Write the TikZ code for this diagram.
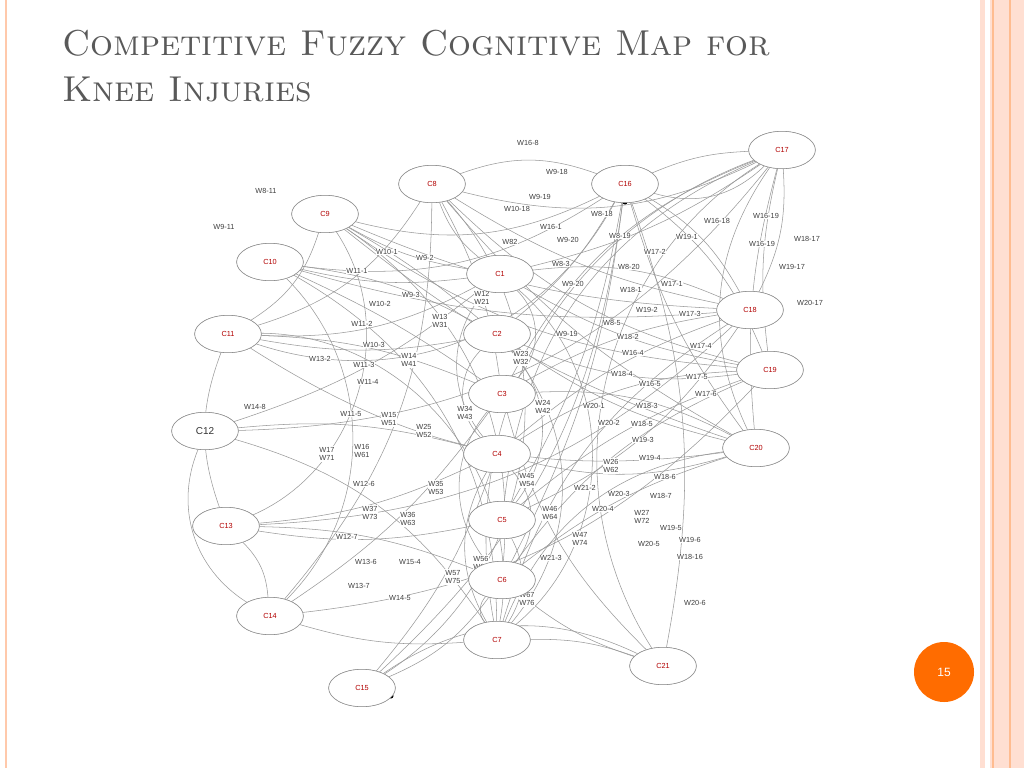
\documentclass[tikz,border=0pt]{standalone}
\usepackage{fontspec}
\newfontfamily\lab{Liberation Sans}
\usetikzlibrary{shapes.geometric}
\begin{document}
\begin{tikzpicture}[x=0.75pt,y=-0.75pt,
  cn/.style={draw=black!45,ellipse,minimum width=50pt,minimum height=28pt,inner sep=0pt,font=\lab\fontsize{5.5}{6}\selectfont,text=red!70!black,fill=white},
  wl/.style={font=\lab\fontsize{5.5}{6.5}\selectfont,text=black!75,align=center,inner sep=0.5pt},
  ed/.style={draw=black!40,line width=0.4pt}]
\useasboundingbox (0,0) rectangle (1024,768);
% slide decoration
\fill[white] (0,0) rectangle (1024,768);
\draw[orange!40!pink!60,line width=1pt] (6,0) -- (6,768);
\fill[orange!25!pink!40] (980,0) rectangle (1024,768);
\fill[white] (985,0) rectangle (990,768);
\draw[orange!50!pink!70,line width=0.8pt] (993,0) -- (993,768);
\draw[orange!50!pink!70,line width=0.8pt] (1010,0) -- (1010,768);
\node[anchor=west,text=black!65,font=\fontsize{27}{34}\selectfont\scshape,align=left,inner sep=0] (title) at (62,66) {Competitive Fuzzy Cognitive Map for\\Knee Injuries};
\node[circle,fill=orange!85!red,minimum size=45pt,text=white,font=\lab\fontsize{9}{9}\selectfont] (pg) at (944,672) {15};
% nodes (shapes only)
\foreach \n/\x/\y in {C17/782/150,C8/432/184,C16/625/184,C9/325/214,C10/270/262,C1/500/274,C11/228/334,C2/497/334,C18/750/310,C19/770/370,C3/502/394,C12/205/431,C20/756/448,C4/497/454,C13/226/526,C5/502/520,C6/502/580,C14/270/616,C7/497/640,C21/663/666,C15/362/688}
  \node[cn,fill=none] (\n) at (\x,\y) {};
% edges
\foreach \a/\b/\c in {C8/C16/20,C8/C1/-15,C8/C18/-10,C8/C19/-15,C8/C11/20,C8/C3/10,C16/C17/10,C9/C11/20,C9/C1/-10,C9/C2/5,C9/C18/-10,C9/C20/-10,C10/C1/-10,C10/C2/10,C10/C3/5,C11/C2/-10,C11/C3/10,C11/C1/-15,C12/C7/20,C12/C4/10,C13/C5/-10,C13/C6/10,C14/C8/-20,C14/C7/-10,C15/C16/-20,C15/C4/-10,C1/C17/-10,C1/C18/15,C2/C19/-15,C3/C20/15,C4/C18/10,C5/C19/10,C6/C20/10,C7/C17/40,C21/C16/-15,C21/C3/15,C17/C18/15,C17/C19/-10,C17/C20/-10,C16/C19/15,C16/C20/-10,C16/C2/10,C16/C5/10,C16/C6/10,C1/C7/50,C2/C7/40,C1/C4/-40,C3/C6/-40,C2/C5/40,C4/C7/-30,C5/C7/30,C10/C18/-10,C11/C20/-20,C9/C19/-15,C8/C20/-10,C13/C18/-20,C14/C19/-20,C12/C17/-25,C15/C21/30,C7/C20/30,C6/C21/-10,C5/C17/30,C3/C17/20,C4/C20/-15,C13/C4/-10,C14/C3/-10,C12/C1/-10,C11/C16/-40,C10/C16/-20,C9/C16/-20,C1/C19/-10,C2/C20/-10,C3/C18/10,C6/C19/15,C7/C18/20,C5/C18/-15,C4/C19/15,C15/C6/-15,C10/C7/30,C9/C6/30,C16/C18/15,C17/C20/-30,C7/C21/10,C8/C17/-20,C11/C7/50,C11/C13/-20,C12/C14/-40,C8/C15/50,C17/C21/-45,C16/C17/-30,C9/C13/50,C10/C14/45,C13/C14/20,C1/C3/45,C2/C4/-45,C4/C6/40,C6/C7/-40}
  \draw[ed] (\a) to[bend left=\c] (\b);
\coordinate (d1) at (625,202); \coordinate (d2) at (391,696); \coordinate (d3) at (690,557);
\foreach \d in {d1,d2,d3} \fill (\d) circle (2.5);
% labels
\foreach \t/\x/\y in {W16-8/528/143,W9-18/557/172,W8-11/266/191,W9-19/540/197,W10-18/517/209,W8-18/602/214,W16-18/717/221,W16-19/766/216,W9-11/224/227,W16-1/551/227,W9-20/568/240,W8-19/620/236,W19-1/687/237,W16-19/762/244,W18-17/807/239,W82/510/242,W10-1/387/252,W9-2/425/258,W17-2/655/252,W8-3/561/264,W8-20/629/267,W19-17/792/267,W11-1/357/271,W9-20/573/284,W18-1/631/290,W17-1/672/284,W9-3/411/295,W10-2/380/304,W20-17/810/303,W19-2/647/310,W17-3/690/314,W8-5/612/323,W11-2/362/324,W9-19/567/334,W18-2/628/337,W10-3/374/345,W17-4/701/346,W16-4/633/353,W13-2/320/359,W11-3/364/365,W18-4/622/374,W17-5/697/377,W11-4/368/382,W16-5/650/384,W17-6/706/394,W14-8/255/407,W20-1/594/406,W18-3/647/406,W11-5/351/414,W20-2/609/423,W18-5/642/424,W19-3/643/440,W19-4/650/458,W18-6/665/477,W12-6/364/484,W21-2/585/488,W20-3/619/494,W18-7/661/496,W20-4/603/509,W19-5/671/528,W12-7/347/537,W20-5/649/544,W19-6/690/540,W21-3/551/558,W18-16/690/557,W13-6/366/562,W15-4/410/562,W13-7/359/586,W14-5/400/598,W20-6/695/603}
  \node[wl,fill=white] at (\x,\y) {\t};
\foreach \a/\b/\x/\y in {W12/W21/482/298,W13/W31/440/321,W14/W41/409/360,W23/W32/521/358,W24/W42/543/407,W34/W43/465/413,W15/W51/389/419,W25/W52/424/431,W17/W71/327/454,W16/W61/362/451,W26/W62/611/466,W45/W54/527/480,W35/W53/436/488,W46/W64/550/513,W37/W73/370/513,W36/W63/408/519,W27/W72/642/517,W47/W74/580/539,W56/W65/481/563,W57/W75/453/577,W67/W76/527/599}
  \node[wl,fill=white] at (\x,\y) {\a\\\b};
\foreach \n in {C17,C8,C16,C9,C10,C1,C11,C2,C18,C19,C3,C20,C4,C13,C5,C6,C14,C7,C21,C15}
  \node[cn] at (\n) {\n};
\node[cn,font=\lab\fontsize{7.5}{8}\selectfont,text=black!80] at (C12) {C12};
\end{tikzpicture}
\end{document}
